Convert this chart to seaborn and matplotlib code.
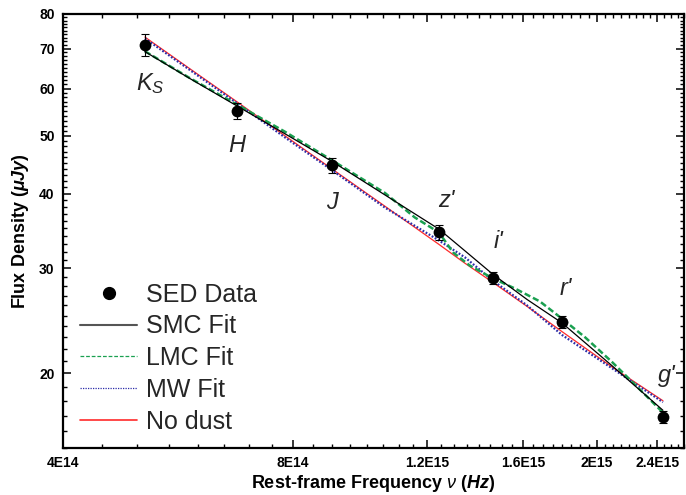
import matplotlib
matplotlib.use("Agg")
import matplotlib.pyplot as plt
from matplotlib.lines import Line2D
from matplotlib.ticker import FixedLocator, FixedFormatter, MultipleLocator, NullFormatter
import seaborn as sns

# Photometric SED points (rest-frame frequency in Hz, flux density in microJy)
nu_data = [5.12e14, 6.76e14, 9.00e14, 1.242e15, 1.462e15, 1.80e15, 2.44e15]
flux_data = [71.0, 55.0, 44.6, 34.5, 28.9, 24.4, 16.9]
flux_err = [3.0, 1.7, 1.3, 1.0, 0.7, 0.6, 0.4]
band_labels = [r"$K_S$", "H", "J", "z'", "i'", "r'", "g'"]
band_offsets = [(3.6, -27.5), (0, -24.5), (0, -26.6), (5, 23), (4.3, 26.6), (2.9, 23.8), (2.9, 30)]

# Model curves
nu_model = [5.12e14, 5.86e14, 6.76e14, 7.81e14, 9.00e14, 1.056e15, 1.242e15,
            1.343e15, 1.462e15, 1.62e15, 1.80e15, 2.093e15, 2.44e15]
smc_fit = [69.2, 62.4, 56.1, 50.4, 45.3, 39.8, 34.9, 32.1, 29.3, 26.6, 24.3, 20.6, 17.35]
mw_fit = [72.8, 64.5, 56.7, 49.7, 43.8, 37.9, 33.4, 31.3, 28.6, 26.0, 23.2, 20.4, 17.9]
nodust_fit = [73.2, 64.8, 57.0, 50.0, 44.0, 38.1, 32.9, 30.6, 28.4, 25.9, 23.5, 20.5, 18.0]

nu_lmc = [5.12e14, 5.86e14, 6.76e14, 7.81e14, 9.00e14, 1.056e15, 1.155e15, 1.242e15,
          1.296e15, 1.364e15, 1.462e15, 1.562e15, 1.684e15, 1.80e15, 1.929e15,
          2.093e15, 2.243e15, 2.44e15]
lmc_fit = [69.3, 62.5, 56.4, 50.8, 45.5, 40.1, 36.5, 34.45, 31.9, 30.3, 28.85,
           27.75, 26.4, 24.7, 23.0, 20.9, 19.15, 17.2]

x_ticks = [4e14, 8e14, 1.2e15, 1.6e15, 2e15, 2.4e15]
x_tick_labels = ["4E14", "8E14", "1.2E15", "1.6E15", "2E15", "2.4E15"]
y_ticks = [20, 30, 40, 50, 60, 70, 80]
y_tick_labels = ["20", "30", "40", "50", "60", "70", "80"]

legend_labels = ["SED Data", "SMC Fit", "LMC Fit", "MW Fit", "No dust"]

C_SMC = "#000000"
C_LMC = "#1aa050"
C_MW = "#2c2ca8"
C_ND = "#ff2a2a"

sns.set_theme(style="ticks")
plt.rcParams["font.family"] = ["Liberation Sans", "DejaVu Sans"]
plt.rcParams["mathtext.fontset"] = "custom"
plt.rcParams["mathtext.rm"] = "Liberation Sans"
plt.rcParams["mathtext.it"] = "Liberation Sans:italic"
plt.rcParams["mathtext.bf"] = "Liberation Sans:bold"
plt.rcParams["mathtext.bfit"] = "Liberation Sans:italic:bold"

fig = plt.figure(figsize=(6.86, 4.95), dpi=100)
ax = fig.add_axes([63 / 686, 1 - 448 / 495, (684 - 63) / 686, (448 - 14) / 495])
ax.set_xscale("log")
ax.set_yscale("log")

sns.lineplot(x=nu_model, y=nodust_fit, ax=ax, color=C_ND, linewidth=0.9,
             estimator=None, sort=False, zorder=2)
sns.lineplot(x=nu_model, y=mw_fit, ax=ax, color=C_MW, linewidth=1.6,
             linestyle=(0, (0.8, 0.8)), estimator=None, sort=False, zorder=2)
sns.lineplot(x=nu_lmc, y=lmc_fit, ax=ax, color=C_LMC, linewidth=1.8,
             linestyle=(0, (2.5, 1.2)), estimator=None, sort=False, zorder=3)
sns.lineplot(x=nu_model, y=smc_fit, ax=ax, color=C_SMC, linewidth=0.9,
             estimator=None, sort=False, zorder=3)

ax.errorbar(nu_data, flux_data, yerr=flux_err, fmt="none", ecolor="black",
            elinewidth=0.8, capsize=2.6, capthick=0.8, zorder=4)
sns.scatterplot(x=nu_data, y=flux_data, ax=ax, color="black", s=72,
                edgecolor="black", linewidth=0, zorder=5)

for lab, xv, yv, off in zip(band_labels, nu_data, flux_data, band_offsets):
    ax.annotate(lab, (xv, yv), xytext=off, textcoords="offset points",
                ha="center", va="center", fontsize=17, style="italic")

ax.set_xlim(4e14, 2.6e15)
ax.set_ylim(15, 80)

ax.xaxis.set_major_locator(FixedLocator(x_ticks))
ax.xaxis.set_major_formatter(FixedFormatter(x_tick_labels))
ax.xaxis.set_minor_locator(MultipleLocator(5e13))
ax.xaxis.set_minor_formatter(NullFormatter())
ax.yaxis.set_major_locator(FixedLocator(y_ticks))
ax.yaxis.set_major_formatter(FixedFormatter(y_tick_labels))
ax.yaxis.set_minor_locator(MultipleLocator(1))
ax.yaxis.set_minor_formatter(NullFormatter())

ax.tick_params(which="both", direction="in", top=True, right=True,
               labeltop=False, labelright=False, color="black")
ax.tick_params(which="major", length=6, width=1.1)
ax.tick_params(which="minor", length=3, width=1.0)
ax.tick_params(axis="x", which="major", pad=6)
ax.tick_params(axis="y", which="major", pad=6)
for t in ax.get_xticklabels() + ax.get_yticklabels():
    t.set_fontweight("bold")
    t.set_fontsize(10)
    t.set_color("black")

for sp in ax.spines.values():
    sp.set_linewidth(1.6)
    sp.set_color("black")

ax.set_xlabel(r"Rest-frame Frequency $\nu$ ($\mathbfit{Hz}$)", fontsize=13,
              fontweight="bold", labelpad=2, color="black")
ax.set_ylabel(r"Flux Density ($\mathbfit{\mu Jy}$)", fontsize=13,
              fontweight="bold", labelpad=6, color="black")

handles = [
    Line2D([], [], marker="o", color="black", linestyle="none", markersize=8.5),
    Line2D([], [], color="#555555", linewidth=1.5),
    Line2D([], [], color=C_LMC, linewidth=0.9, linestyle=(0, (3, 1.5))),
    Line2D([], [], color=C_MW, linewidth=0.9, linestyle=(0, (1, 1))),
    Line2D([], [], color=C_ND, linewidth=1.2),
]
ax.legend(handles, legend_labels, loc="upper left", bbox_to_anchor=(0.027, 0.381),
          frameon=False, fontsize=18, handlelength=2.3, handletextpad=0.36,
          labelspacing=0.31, borderpad=0, borderaxespad=0)

fig.savefig("out.png", dpi=100)
